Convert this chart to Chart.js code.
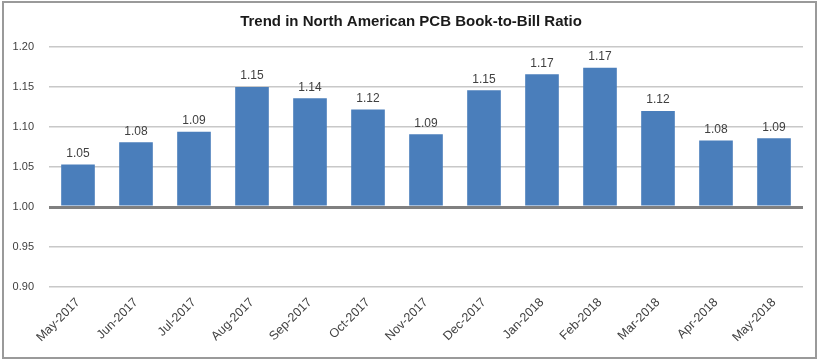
<!DOCTYPE html>
<html>
<head>
<meta charset="utf-8">
<script src="https://cdn.jsdelivr.net/npm/chart.js@4/dist/chart.umd.min.js"></script>
<style>
html,body{margin:0;padding:0;background:#fff;}
#wrap{position:absolute;left:0;top:0;width:819px;height:362px;}
</style>
</head>
<body>
<div id="wrap"><canvas id="c" width="819" height="362"></canvas></div>
<script>
const categories = ["May-2017","Jun-2017","Jul-2017","Aug-2017","Sep-2017","Oct-2017","Nov-2017","Dec-2017","Jan-2018","Feb-2018","Mar-2018","Apr-2018","May-2018"];
const ratios = [1.053,1.081,1.094,1.150,1.136,1.122,1.091,1.146,1.166,1.174,1.120,1.083,1.086];
const valueLabels = ["1.05","1.08","1.09","1.15","1.14","1.12","1.09","1.15","1.17","1.17","1.12","1.08","1.09"];
const yTicks = [0.90,0.95,1.00,1.05,1.10,1.15,1.20];
const titleText = "Trend in North American PCB Book-to-Bill Ratio";

const FONT = "'Liberation Sans', Arial, sans-serif";

const framePlugin = {
  id: 'frame',
  afterDraw(chart) {
    const ctx = chart.ctx;
    ctx.save();
    ctx.strokeStyle = '#9a9a9a';
    ctx.lineWidth = 2;
    ctx.strokeRect(3, 2, 813, 356);
    ctx.font = "bold 15px " + FONT;
    ctx.fillStyle = '#1a1a1a';
    ctx.textAlign = 'center';
    ctx.textBaseline = 'middle';
    ctx.fillText(titleText, 411, 22);
    ctx.restore();
  }
};

const valueLabelPlugin = {
  id: 'valueLabels',
  afterDatasetsDraw(chart) {
    const ctx = chart.ctx;
    const meta = chart.getDatasetMeta(0);
    ctx.save();
    ctx.font = "12px " + FONT;
    ctx.fillStyle = '#404040';
    ctx.textAlign = 'center';
    ctx.textBaseline = 'middle';
    meta.data.forEach((bar, i) => {
      ctx.fillText(valueLabels[i], bar.x, bar.y - 11);
    });
    ctx.restore();
  }
};

new Chart(document.getElementById('c'), {
  type: 'bar',
  data: {
    labels: categories,
    datasets: [{
      data: ratios,
      base: 1.0,
      backgroundColor: '#4a7ebb',
      borderWidth: 0,
      categoryPercentage: 1.0,
      barPercentage: 0.58
    }]
  },
  options: {
    responsive: false,
    animation: false,
    layout: { padding: { top: 47, right: 16, left: 0, bottom: 0 } },
    plugins: {
      legend: { display: false },
      tooltip: { enabled: false },
      title: { display: false }
    },
    scales: {
      x: {
        grid: { display: false, drawTicks: false },
        border: { display: false },
        ticks: {
          color: '#404040',
          font: { family: FONT, size: 12.5 },
          minRotation: 45,
          maxRotation: 45,
          padding: 8,
          autoSkip: false
        },
        afterFit(scale) { scale.height = 75; }
      },
      y: {
        min: 0.9,
        max: 1.2,
        afterBuildTicks(scale) { scale.ticks = yTicks.map(v => ({ value: v })); },
        grid: {
          drawTicks: false,
          color: (ctx) => (ctx.tick && Math.abs(ctx.tick.value - 1) < 1e-6) ? '#808080' : '#c8c8c8',
          lineWidth: (ctx) => (ctx.tick && Math.abs(ctx.tick.value - 1) < 1e-6) ? 3 : 1.5
        },
        border: { display: false },
        ticks: {
          color: '#404040',
          font: { family: FONT, size: 11 },
          padding: 15,
          callback: (v) => Number(v).toFixed(2)
        },
        afterFit(scale) { scale.width = 49; }
      }
    }
  },
  plugins: [framePlugin, valueLabelPlugin]
});
</script>
</body>
</html>
